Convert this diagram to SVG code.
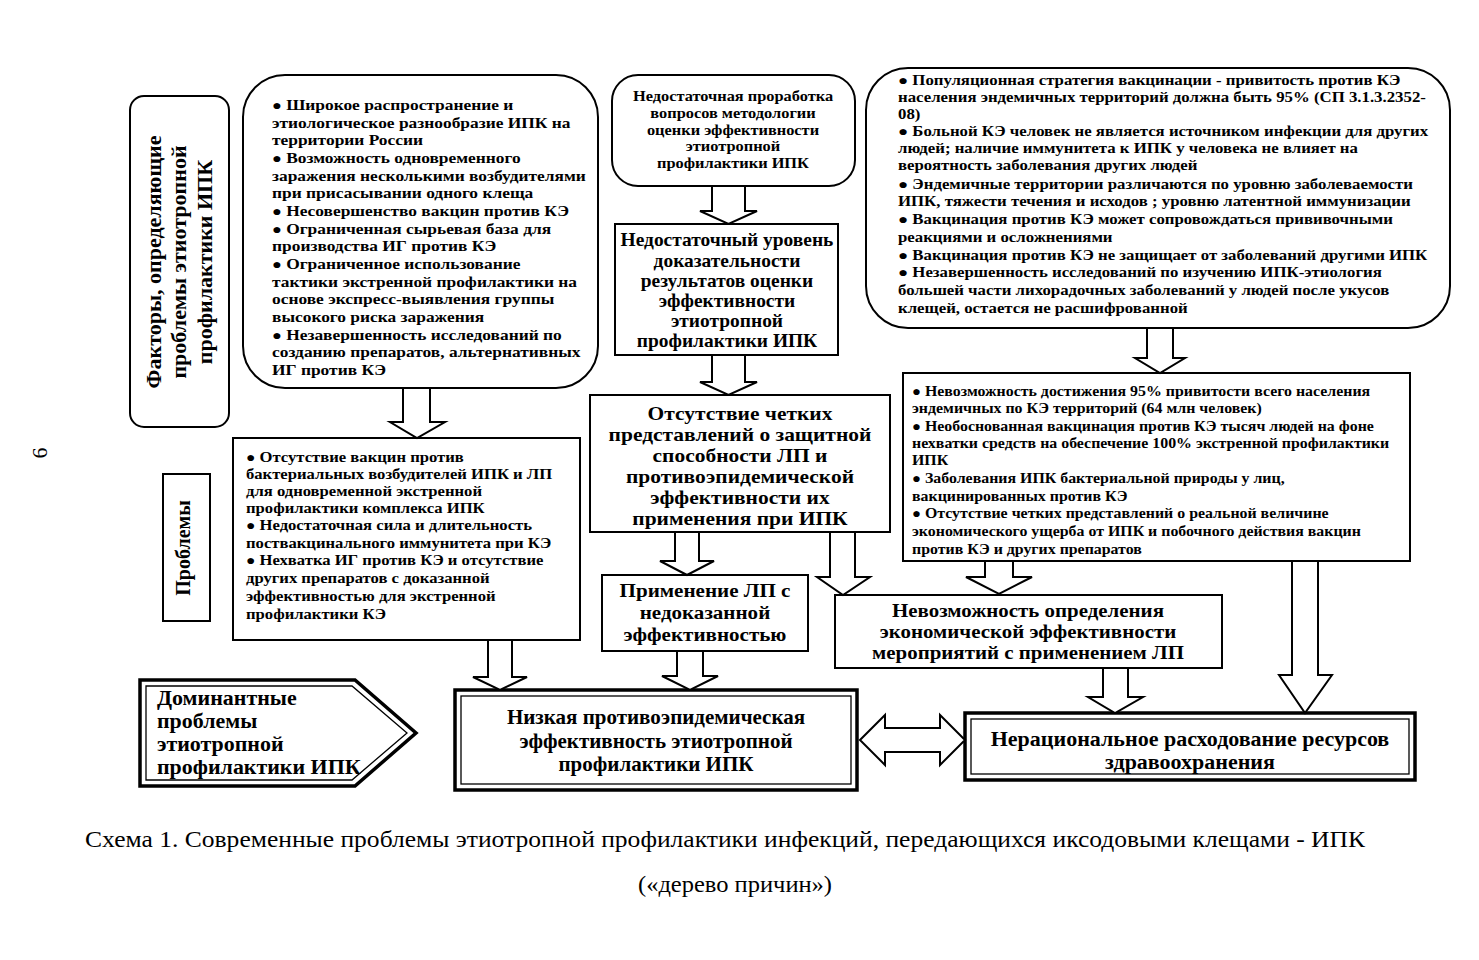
<svg xmlns="http://www.w3.org/2000/svg" width="1479" height="960" viewBox="0 0 1479 960">
<defs>
<style>
.bg{fill:#fff}
.box{fill:#fff;stroke:#000;stroke-width:2}
.thick{fill:#fff;stroke:#000;stroke-width:3.5}
.thin{fill:none;stroke:#000;stroke-width:1.3}
.arr{fill:#fff;stroke:#000;stroke-width:2;stroke-linejoin:miter}
text{font-family:"Liberation Serif","Times New Roman",serif;fill:#000}
.b{font-weight:bold}
.c{text-anchor:middle}
.bul{font-size:14px}
</style>
</defs>
<rect class="bg" x="0" y="0" width="1479" height="960"/>

<g id="page-number">
<text transform="translate(47,453) rotate(-90)" class="c" font-size="22">6</text>
</g>

<g id="label-factors">
<rect class="box" x="130" y="96" width="99" height="331" rx="14"/>
<g transform="translate(180,262) rotate(-90)" class="b c" font-size="22">
<text x="0" y="-19">Факторы, определяющие</text>
<text x="0" y="6">проблемы этиотропной</text>
<text x="0" y="32">профилактики ИПК</text>
</g>
</g>

<g id="factors-left">
<rect class="box" x="243" y="75" width="355" height="313" rx="42"/>
<g class="b" font-size="15" transform="matrix(1.16,0,0,1,-43.52,0)">
<text x="272" y="110"><tspan class="bul">●</tspan> Широкое распространение и</text>
<text x="272" y="128">этиологическое разнообразие ИПК  на</text>
<text x="272" y="145">территории России</text>
<text x="272" y="163"><tspan class="bul">●</tspan> Возможность одновременного</text>
<text x="272" y="181">заражения несколькими возбудителями</text>
<text x="272" y="198">при присасывании одного клеща</text>
<text x="272" y="216"><tspan class="bul">●</tspan> Несовершенство вакцин против КЭ</text>
<text x="272" y="234"><tspan class="bul">●</tspan> Ограниченная сырьевая база для</text>
<text x="272" y="251">производства ИГ против КЭ</text>
<text x="272" y="269"><tspan class="bul">●</tspan> Ограниченное использование</text>
<text x="272" y="287">тактики экстренной профилактики на</text>
<text x="272" y="304">основе экспресс-выявления группы</text>
<text x="272" y="322">высокого риска заражения</text>
<text x="272" y="340"><tspan class="bul">●</tspan> Незавершенность исследований по</text>
<text x="272" y="357">созданию  препаратов, альтернативных</text>
<text x="272" y="375">ИГ против КЭ</text>
</g>
</g>

<g id="factors-middle">
<rect class="box" x="612" y="75" width="243" height="111" rx="26"/>
<g class="b c" font-size="14" transform="matrix(1.17,0,0,1,-124.61,0)">
<text x="733" y="101">Недостаточная проработка</text>
<text x="733" y="118">вопросов методологии</text>
<text x="733" y="135">оценки эффективности</text>
<text x="733" y="151">этиотропной</text>
<text x="733" y="168">профилактики ИПК</text>
</g>
</g>

<g id="factors-right">
<rect class="box" x="866" y="68" width="584" height="260" rx="42"/>
<g class="b" font-size="14" transform="matrix(1.2,0,0,1,-179.6,0)">
<text x="898" y="85"><tspan class="bul">●</tspan> Популяционная стратегия вакцинации  - привитость против КЭ</text>
<text x="898" y="102">населения эндемичных  территорий должна быть 95% (СП 3.1.3.2352-</text>
<text x="898" y="119">08)</text>
<text x="898" y="136"><tspan class="bul">●</tspan> Больной КЭ человек не является источником инфекции для других</text>
<text x="898" y="153">людей; наличие иммунитета к ИПК у человека не влияет на</text>
<text x="898" y="170">вероятность заболевания других людей</text>
<text x="898" y="189"><tspan class="bul">●</tspan> Эндемичные территории различаются  по уровню заболеваемости</text>
<text x="898" y="206">ИПК,  тяжести течения и исходов ; уровню латентной иммунизации</text>
<text x="898" y="224"><tspan class="bul">●</tspan> Вакцинация против КЭ может сопровождаться прививочными</text>
<text x="898" y="242">реакциями и осложнениями</text>
<text x="898" y="260"><tspan class="bul">●</tspan> Вакцинация против КЭ не защищает от заболеваний другими ИПК</text>
<text x="898" y="277"><tspan class="bul">●</tspan> Незавершенность исследований по изучению ИПК-этиология</text>
<text x="898" y="295">большей части лихорадочных заболеваний у людей после укусов</text>
<text x="898" y="313">клещей, остается не расшифрованной</text>
</g>
</g>

<g id="evidence-level">
<rect class="box" x="615" y="224" width="223" height="131"/>
<g class="b c" font-size="18" transform="matrix(1.08,0,0,1,-58.16,0)">
<text x="727" y="246">Недостаточный уровень</text>
<text x="727" y="267">доказательности</text>
<text x="727" y="287">результатов  оценки</text>
<text x="727" y="307">эффективности</text>
<text x="727" y="327">этиотропной</text>
<text x="727" y="347">профилактики ИПК</text>
</g>
</g>

<g id="label-problems">
<rect class="box" x="163" y="474" width="47" height="147"/>
<text transform="translate(183,548) rotate(-90)" x="0" y="7" class="b c" font-size="20">Проблемы</text>
</g>

<g id="problems-left">
<rect class="box" x="233" y="438" width="347" height="202"/>
<g class="b" font-size="15" transform="matrix(1.11,0,0,1,-27.06,0)">
<text x="246" y="462"><tspan class="bul">●</tspan> Отсутствие  вакцин против</text>
<text x="246" y="479">бактериальных возбудителей ИПК и ЛП</text>
<text x="246" y="496">для одновременной экстренной</text>
<text x="246" y="513">профилактики комплекса ИПК</text>
<text x="246" y="530"><tspan class="bul">●</tspan> Недостаточная сила и длительность</text>
<text x="246" y="548">поствакцинального иммунитета при КЭ</text>
<text x="246" y="565"><tspan class="bul">●</tspan> Нехватка ИГ против КЭ и отсутствие</text>
<text x="246" y="583">других препаратов с доказанной</text>
<text x="246" y="601">эффективностью  для экстренной</text>
<text x="246" y="619">профилактики КЭ</text>
</g>
</g>

<g id="unclear-protection">
<rect class="box" x="590" y="395" width="300" height="137"/>
<g class="b c" font-size="19" transform="matrix(1.13,0,0,1,-96.2,0)">
<text x="740" y="420">Отсутствие четких</text>
<text x="740" y="441">представлений о защитной</text>
<text x="740" y="462">способности ЛП и</text>
<text x="740" y="483">противоэпидемической</text>
<text x="740" y="504">эффективности их</text>
<text x="740" y="525">применения  при ИПК</text>
</g>
</g>

<g id="problems-right">
<rect class="box" x="903" y="373" width="507" height="188"/>
<g class="b" font-size="15" transform="matrix(1.06,0,0,1,-54.72,0)">
<text x="912" y="396"><tspan class="bul">●</tspan> Невозможность достижения 95% привитости  всего населения</text>
<text x="912" y="413">эндемичных по КЭ территорий (64 млн человек)</text>
<text x="912" y="431"><tspan class="bul">●</tspan> Необоснованная вакцинация против КЭ  тысяч людей на фоне</text>
<text x="912" y="448">нехватки средств на обеспечение 100% экстренной профилактики</text>
<text x="912" y="465">ИПК</text>
<text x="912" y="483"><tspan class="bul">●</tspan> Заболевания ИПК бактериальной природы у лиц,</text>
<text x="912" y="501">вакцинированных против КЭ</text>
<text x="912" y="518"><tspan class="bul">●</tspan> Отсутствие четких представлений о реальной величине</text>
<text x="912" y="536">экономического ущерба от  ИПК и побочного действия вакцин</text>
<text x="912" y="554">против КЭ и других препаратов</text>
</g>
</g>

<g id="unproven-use">
<rect class="box" x="602" y="575" width="206" height="76"/>
<g class="b c" font-size="19.5" transform="matrix(1.08,0,0,1,-56.4,0)">
<text x="705" y="597">Применение ЛП с</text>
<text x="705" y="619">недоказанной</text>
<text x="705" y="641">эффективностью</text>
</g>
</g>

<g id="economic-impossible">
<rect class="box" x="835" y="595" width="387" height="73"/>
<g class="b c" font-size="19" transform="matrix(1.1,0,0,1,-102.8,0)">
<text x="1028" y="617">Невозможность определения</text>
<text x="1028" y="638">экономической эффективности</text>
<text x="1028" y="659">мероприятий с применением ЛП</text>
</g>
</g>

<g id="label-dominant">
<polygon class="thick" points="140,680 355,680 416,733 355,786 140,786"/>
<polygon class="thin" points="146,686 352,686 407,733 352,780 146,780"/>
<g class="b" font-size="20.5" transform="matrix(1.07,0,0,1,-10.99,0)">
<text x="157" y="705">Доминантные</text>
<text x="157" y="728">проблемы</text>
<text x="157" y="751">этиотропной</text>
<text x="157" y="774">профилактики ИПК</text>
</g>
</g>

<g id="low-efficiency">
<rect class="thick" x="455" y="690" width="402" height="100"/>
<rect class="thin" x="461" y="696" width="390" height="88"/>
<g class="b c" font-size="21">
<text x="656" y="724">Низкая противоэпидемическая</text>
<text x="656" y="748">эффективность этиотропной</text>
<text x="656" y="771">профилактики ИПК</text>
</g>
</g>

<g id="irrational-spending">
<rect class="thick" x="965" y="713" width="450" height="67"/>
<rect class="thin" x="971" y="719" width="438" height="55"/>
<g class="b c" font-size="20" transform="matrix(1.1,0,0,1,-119,0)">
<text x="1190" y="746">Нерациональное расходование ресурсов</text>
<text x="1190" y="769">здравоохранения</text>
</g>
</g>

<g id="connectors">
<polygon class="arr" points="712,186 745,186 745,211 757,211 728.5,224 700,211 712,211"/>
<polygon class="arr" points="712,355 745,355 745,382 757,382 728.5,395 700,382 712,382"/>
<polygon class="arr" points="403,388 430,388 430,422 445,422 417,438 390,422 403,422"/>
<polygon class="arr" points="1147,328 1173,328 1173,358 1185,358 1160,373 1135,358 1147,358"/>
<polygon class="arr" points="675,532 699,532 699,561 714,561 687,575 660,561 675,561"/>
<polygon class="arr" points="830,532 855,532 855,577 870,577 843,595 817,577 830,577"/>
<polygon class="arr" points="985,561 1013,561 1013,577 1032,577 999,594 966,577 985,577"/>
<polygon class="arr" points="488,640 512,640 512,677 527,677 500,690 473,677 488,677"/>
<polygon class="arr" points="677,651 703,651 703,676 718,676 690,690 662,676 677,676"/>
<polygon class="arr" points="1103,668 1128,668 1128,697 1143,697 1115,713 1088,697 1103,697"/>
<polygon class="arr" points="1292,561 1318,561 1318,675 1332,675 1305,713 1279,675 1292,675"/>
<polygon class="arr" points="860,740 885,715 885,728 940,728 940,715 965,740 940,765 940,752 885,752 885,765"/>
</g>

<g id="caption">
<text x="725" y="847" class="c" font-size="24" textLength="1280" lengthAdjust="spacingAndGlyphs">Схема 1. Современные проблемы этиотропной профилактики инфекций, передающихся иксодовыми клещами - ИПК</text>
<text x="735" y="892" class="c" font-size="24" textLength="194" lengthAdjust="spacingAndGlyphs">(«дерево причин»)</text>
</g>
</svg>
